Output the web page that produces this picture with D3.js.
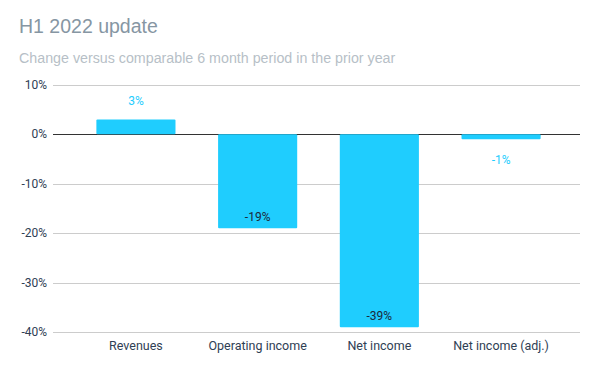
<!DOCTYPE html>
<html>
<head>
<meta charset="utf-8">
<script src="https://cdn.jsdelivr.net/npm/d3@7"></script>
<style>
  body { margin: 0; background: #fff; }
  text { font-family: Roboto, "Open Sans", sans-serif; }
</style>
</head>
<body>
<div class="container"></div>
<script>
let categories = ["Revenues", "Operating income", "Net income", "Net income (adj.)"];
let values = [3, -19, -39, -1];
let ticks = [10, 0, -10, -20, -30, -40];

let width = 600, height = 371;
let margin = {top: 85, right: 20, bottom: 40, left: 53};

let svg = d3.select(".container").append("svg")
    .attr("width", width)
    .attr("height", height);

let x = d3.scaleBand()
    .domain(categories)
    .range([margin.left + 2, width - margin.right + 2])
    .paddingInner(0.35)
    .paddingOuter(0.34);

let y = d3.scaleLinear()
    .domain([-40, 10])
    .range([332.3, 84.8]);

// title
svg.append("text")
    .text("H1 2022 update")
    .attr("x", 19).attr("y", 33)
    .style("font-family", "'Liberation Sans', Arial, sans-serif")
    .style("font-size", "19.5px")
    .style("fill", "#8696a3");
svg.append("text")
    .text("Change versus comparable 6 month period in the prior year")
    .attr("x", 19).attr("y", 63)
    .style("font-family", "'Liberation Sans', Arial, sans-serif")
    .style("font-size", "14.25px")
    .style("fill", "#b7bfc7");

// gridlines
svg.append("g").selectAll("line")
    .data(ticks)
    .enter().append("line")
    .attr("x1", margin.left)
    .attr("x2", width - margin.right)
    .attr("y1", d => Math.round(y(d)) + 0.5)
    .attr("y2", d => Math.round(y(d)) + 0.5)
    .style("stroke", d => d === 0 ? "#333" : "#ccc")
    .style("stroke-width", 1);

svg.append("g").selectAll("text")
    .data(ticks)
    .enter().append("text")
    .text(d => d + "%")
    .attr("x", 47)
    .attr("y", d => y(d) + 4)
    .attr("text-anchor", "end")
    .style("font-size", "12px")
    .style("fill", "#2f4054");

// bars
svg.append("g").selectAll("rect")
    .data(values)
    .enter().append("rect")
    .attr("x", (d, i) => x(categories[i]))
    .attr("width", x.bandwidth())
    .attr("y", d => y(Math.max(0, d)))
    .attr("height", d => Math.abs(y(d) - y(0)))
    .attr("rx", 1)
    .style("fill", "#1fcdfe");

// value labels
svg.append("g").selectAll("text")
    .data(values)
    .enter().append("text")
    .text(d => d + "%")
    .attr("x", (d, i) => x(categories[i]) + x.bandwidth() / 2)
    .attr("y", d => {
      if (d >= 0) return y(d) - 14;
      if (d > -5) return y(d) + 25;
      return y(d) - 7;
    })
    .attr("text-anchor", "middle")
    .style("font-size", "12px")
    .style("fill", d => (d >= 0 || d > -5) ? "#1fcdfe" : "#1b2a3a");

// category labels
svg.append("g").selectAll("text")
    .data(categories)
    .enter().append("text")
    .text(d => d)
    .attr("x", d => x(d) + x.bandwidth() / 2)
    .attr("y", 350)
    .attr("text-anchor", "middle")
    .style("font-size", "12.5px")
    .style("fill", "#2f4054");
</script>
</body>
</html>
